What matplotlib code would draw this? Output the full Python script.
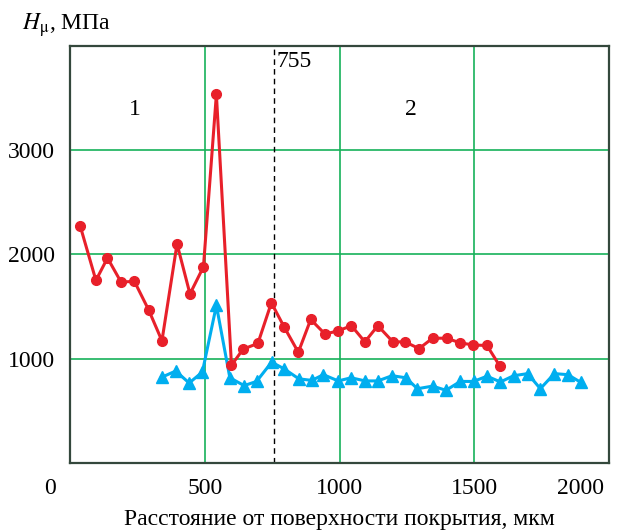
import matplotlib
matplotlib.use("Agg")
import matplotlib.pyplot as plt
from matplotlib.transforms import ScaledTranslation

plt.rcParams['font.family'] = ['Liberation Serif', 'DejaVu Serif']
plt.rcParams['mathtext.fontset'] = 'stix'

# зона 1 / зона 2, микротвердость по глубине
red_x = [38, 96, 139, 189, 239, 292, 341, 397, 445, 495, 543, 599, 642, 697, 747, 795,
         847, 893, 946, 994, 1044, 1094, 1142, 1198, 1243, 1295, 1345, 1397, 1448, 1496, 1547, 1594]
red_y = [2270, 1750, 1965, 1735, 1740, 1465, 1170, 2100, 1620, 1880, 3535, 935, 1090, 1145, 1535, 1300,
         1060, 1375, 1235, 1265, 1315, 1160, 1315, 1160, 1160, 1095, 1195, 1195, 1150, 1130, 1125, 930]

blue_x = [340, 392, 442, 491, 543, 593, 646, 692, 748, 795, 849, 897, 940, 995, 1043, 1095,
          1142, 1195, 1246, 1289, 1345, 1395, 1448, 1497, 1547, 1597, 1646, 1698, 1745, 1797, 1847, 1896]
blue_y = [820, 880, 765, 870, 1510, 815, 740, 780, 965, 900, 805, 790, 845, 785, 815, 785,
          785, 835, 815, 710, 735, 695, 780, 780, 830, 775, 835, 855, 710, 855, 845, 770]

xticks = [0, 500, 1000, 1500, 2000]
yticks = [1000, 2000, 3000]
boundary = 755

fig = plt.figure(figsize=(6.27, 5.30), dpi=100)
ax = fig.add_axes([0.1117, 0.127, 0.8597, 0.7862])

grid_c = '#17b15a'
for v in [500, 1000, 1500]:
    ax.axvline(v, color=grid_c, lw=1.2, zorder=1)
for v in yticks:
    ax.axhline(v, color=grid_c, lw=1.2, zorder=1)
ax.axvline(boundary, color='black', lw=1.0, ls=(0, (4, 3)), zorder=2)

ax.plot(red_x, red_y, color='#e8202a', lw=2.2, marker='o', ms=7, zorder=4)
ax.plot(blue_x, blue_y, color='#00aeef', lw=2.2, marker='^', ms=9, zorder=3)

ax.set_xlim(0, 2000)
ax.set_ylim(0, 4000)
ax.set_xticks(xticks)
ax.set_yticks(yticks)
ax.tick_params(length=0, labelsize=17, pad=11)
for s in ax.spines.values():
    s.set_color('#34483c')
    s.set_linewidth(1.6)

# сдвиг крайних подписей оси x
xl = ax.get_xticklabels()
xl[0].set_transform(xl[0].get_transform() + ScaledTranslation(-0.20, 0, fig.dpi_scale_trans))
xl[-1].set_transform(xl[-1].get_transform() + ScaledTranslation(-0.29, 0, fig.dpi_scale_trans))

ax.set_xlabel('Расстояние от поверхности покрытия, мкм', fontsize=17, labelpad=7)
fig.text(0.035, 0.952, r'$H_{\mathrm{μ}}$, МПа', fontsize=17, va='center', ha='left')

ax.text(240, 3390, '1', fontsize=17, ha='center', va='center')
ax.text(1265, 3390, '2', fontsize=17, ha='center', va='center')
ax.text(boundary + 12, 3850, '755', fontsize=17, ha='left', va='center')

fig.savefig('out.png', dpi=100)
